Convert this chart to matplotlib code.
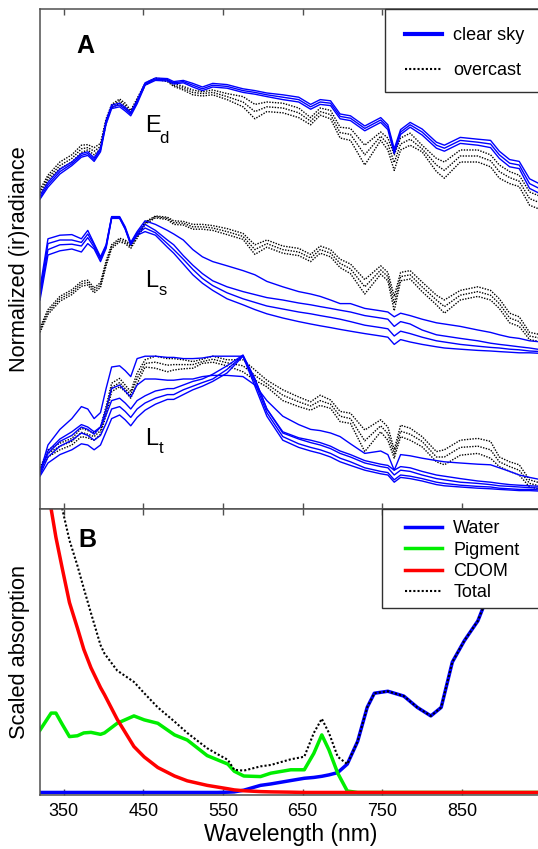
import matplotlib
matplotlib.use('Agg')
import matplotlib.pyplot as plt
from matplotlib.lines import Line2D
from matplotlib.patches import Rectangle
import numpy as np

plt.rcParams['font.family'] = ['Liberation Sans', 'DejaVu Sans']

# ── panel A: normalized spectra (each curve scaled so its maximum = 1) ──
WL_A = [320, 330, 345, 360, 372, 380, 388, 396, 403, 410,
        420, 427, 434, 442, 452, 465, 480, 488, 500, 512,
        524, 537, 555, 575, 590, 605, 625, 645, 660, 672,
        685, 697, 710, 728, 748, 757, 765, 773, 785, 800,
        818, 828, 848, 870, 886, 897, 910, 922, 935, 950]

# downwelling irradiance E_d
ED_CLEAR_HI = [0.02, 0.13, 0.24, 0.30, 0.37, 0.385, 0.335, 0.415, 0.645, 0.775,
               0.79, 0.755, 0.715, 0.815, 0.96, 1.0, 0.995, 0.97, 0.98, 0.955,
               0.925, 0.955, 0.945, 0.91, 0.895, 0.875, 0.86, 0.84, 0.78, 0.82,
               0.81, 0.70, 0.685, 0.60, 0.67, 0.61, 0.41, 0.57, 0.63, 0.575,
               0.465, 0.44, 0.505, 0.49, 0.48, 0.39, 0.32, 0.305, 0.16, 0.11]
ED_CLEAR_MID = [0.0, 0.11, 0.22, 0.285, 0.355, 0.37, 0.32, 0.40, 0.63, 0.76,
                0.775, 0.74, 0.70, 0.80, 0.95, 0.99, 0.985, 0.96, 0.97, 0.94,
                0.91, 0.94, 0.93, 0.895, 0.88, 0.86, 0.84, 0.82, 0.76, 0.80,
                0.79, 0.68, 0.665, 0.58, 0.65, 0.59, 0.39, 0.55, 0.61, 0.55,
                0.44, 0.415, 0.48, 0.465, 0.45, 0.36, 0.29, 0.275, 0.12, 0.07]
ED_CLEAR_LO = [-0.01, 0.09, 0.20, 0.27, 0.34, 0.355, 0.305, 0.385, 0.615, 0.745,
               0.76, 0.725, 0.685, 0.785, 0.94, 0.98, 0.975, 0.95, 0.96, 0.925,
               0.895, 0.925, 0.915, 0.88, 0.865, 0.845, 0.82, 0.80, 0.74, 0.78,
               0.77, 0.66, 0.645, 0.56, 0.63, 0.57, 0.37, 0.53, 0.59, 0.525,
               0.415, 0.39, 0.455, 0.44, 0.42, 0.33, 0.26, 0.245, 0.08, 0.03]
ED_OVER_TOP = [0.07, 0.19, 0.30, 0.36, 0.44, 0.445, 0.42, 0.455, 0.66, 0.78,
               0.825, 0.79, 0.73, 0.83, 0.955, 1.0, 0.985, 0.955, 0.93, 0.90,
               0.885, 0.90, 0.87, 0.845, 0.78, 0.80, 0.79, 0.75, 0.67, 0.75,
               0.73, 0.59, 0.58, 0.44, 0.55, 0.50, 0.36, 0.50, 0.54, 0.44,
               0.33, 0.30, 0.40, 0.40, 0.36, 0.275, 0.22, 0.19, 0.05, 0.01]
ED_OVER_MID = [0.045, 0.17, 0.27, 0.33, 0.41, 0.42, 0.39, 0.43, 0.64, 0.765,
               0.81, 0.77, 0.715, 0.815, 0.95, 0.995, 0.98, 0.94, 0.915, 0.88,
               0.87, 0.88, 0.845, 0.80, 0.72, 0.76, 0.75, 0.71, 0.64, 0.72,
               0.695, 0.545, 0.53, 0.36, 0.515, 0.45, 0.295, 0.45, 0.49, 0.41,
               0.275, 0.23, 0.35, 0.35, 0.31, 0.22, 0.17, 0.14, -0.005, -0.045]
ED_OVER_BOT = [0.02, 0.15, 0.245, 0.30, 0.38, 0.40, 0.36, 0.41, 0.62, 0.75,
               0.79, 0.75, 0.70, 0.80, 0.94, 0.99, 0.97, 0.93, 0.90, 0.86,
               0.85, 0.86, 0.82, 0.76, 0.66, 0.72, 0.71, 0.67, 0.61, 0.69,
               0.66, 0.50, 0.48, 0.275, 0.48, 0.40, 0.23, 0.40, 0.44, 0.385,
               0.22, 0.165, 0.30, 0.30, 0.26, 0.165, 0.12, 0.095, -0.06, -0.10]

# sky radiance L_s
LS_CLEAR_A = [0.40, 0.81, 0.84, 0.845, 0.81, 0.88, 0.77, 0.66, 0.76, 0.995,
              0.995, 0.91, 0.78, 0.87, 0.96, 0.93, 0.88, 0.85, 0.80, 0.72,
              0.66, 0.62, 0.585, 0.545, 0.51, 0.455, 0.41, 0.37, 0.35, 0.33,
              0.30, 0.27, 0.27, 0.23, 0.21, 0.20, 0.16, 0.19, 0.17, 0.14,
              0.11, 0.10, 0.08, 0.05, 0.03, 0.01, -0.01, -0.02, -0.04, -0.05]
LS_CLEAR_B = [0.36, 0.77, 0.80, 0.80, 0.78, 0.85, 0.76, 0.65, 0.75, 0.99,
              0.99, 0.90, 0.77, 0.86, 0.93, 0.88, 0.80, 0.76, 0.67, 0.59,
              0.52, 0.46, 0.41, 0.37, 0.345, 0.32, 0.30, 0.275, 0.26, 0.245,
              0.23, 0.215, 0.20, 0.17, 0.15, 0.14, 0.08, 0.12, 0.10, 0.05,
              0.01, 0.0, -0.02, -0.04, -0.06, -0.07, -0.08, -0.09, -0.10, -0.115]
LS_CLEAR_C = [0.33, 0.72, 0.76, 0.765, 0.75, 0.82, 0.74, 0.64, 0.74, 0.985,
              0.985, 0.895, 0.765, 0.85, 0.90, 0.86, 0.77, 0.72, 0.64, 0.555,
              0.48, 0.42, 0.36, 0.31, 0.28, 0.25, 0.225, 0.20, 0.185, 0.17,
              0.155, 0.14, 0.12, 0.09, 0.07, 0.06, 0.0, 0.04, 0.02, -0.01,
              -0.04, -0.05, -0.07, -0.085, -0.095, -0.10, -0.11, -0.115, -0.125, -0.13]
LS_CLEAR_D = [0.30, 0.675, 0.71, 0.725, 0.70, 0.77, 0.725, 0.62, 0.73, 0.98,
              0.98, 0.89, 0.76, 0.84, 0.87, 0.84, 0.74, 0.69, 0.60, 0.51,
              0.44, 0.38, 0.31, 0.26, 0.22, 0.185, 0.15, 0.12, 0.10, 0.085,
              0.07, 0.055, 0.04, 0.02, 0.0, -0.01, -0.07, -0.03, -0.05, -0.07,
              -0.09, -0.10, -0.11, -0.12, -0.125, -0.13, -0.135, -0.14, -0.14, -0.145]
LS_OVER_HI = [0.07, 0.22, 0.33, 0.385, 0.455, 0.465, 0.40, 0.445, 0.625, 0.76,
              0.815, 0.80, 0.76, 0.845, 0.95, 1.0, 0.99, 0.96, 0.955, 0.93,
              0.93, 0.92, 0.895, 0.855, 0.76, 0.80, 0.75, 0.73, 0.68, 0.75,
              0.72, 0.64, 0.60, 0.47, 0.585, 0.53, 0.33, 0.53, 0.545, 0.45,
              0.34, 0.30, 0.38, 0.41, 0.38, 0.31, 0.19, 0.16, 0.03, 0.01]
LS_OVER_MID = [0.05, 0.20, 0.31, 0.365, 0.435, 0.445, 0.38, 0.425, 0.605, 0.745,
               0.80, 0.785, 0.745, 0.83, 0.94, 0.995, 0.98, 0.945, 0.94, 0.91,
               0.91, 0.90, 0.87, 0.83, 0.72, 0.77, 0.72, 0.70, 0.65, 0.72,
               0.69, 0.605, 0.56, 0.41, 0.55, 0.495, 0.27, 0.495, 0.51, 0.41,
               0.30, 0.245, 0.34, 0.37, 0.34, 0.27, 0.15, 0.12, 0.0, -0.02]
LS_OVER_LO = [0.03, 0.18, 0.29, 0.345, 0.415, 0.425, 0.36, 0.405, 0.585, 0.73,
              0.785, 0.77, 0.73, 0.815, 0.93, 0.985, 0.97, 0.93, 0.925, 0.89,
              0.89, 0.88, 0.845, 0.805, 0.68, 0.74, 0.69, 0.67, 0.62, 0.69,
              0.66, 0.57, 0.52, 0.35, 0.515, 0.46, 0.21, 0.46, 0.475, 0.37,
              0.26, 0.19, 0.30, 0.33, 0.30, 0.23, 0.11, 0.08, -0.03, -0.05]

# total upwelling radiance L_t
LT_CLEAR_U = [0.02, 0.25, 0.38, 0.47, 0.57, 0.55, 0.47, 0.52, 0.72, 0.90,
              0.91, 0.87, 0.82, 0.97, 0.99, 0.99, 0.98, 0.98, 0.97, 0.97,
              0.975, 0.99, 0.99, 0.99, 0.80, 0.55, 0.36, 0.31, 0.29, 0.27,
              0.24, 0.20, 0.17, 0.12, 0.09, 0.08, 0.04, 0.07, 0.06, 0.03,
              0.0, -0.01, -0.03, -0.05, -0.06, -0.07, -0.08, -0.085, -0.09, -0.095]
LT_CLEAR_E = [0.03, 0.18, 0.28, 0.33, 0.40, 0.38, 0.34, 0.40, 0.55, 0.72,
              0.75, 0.70, 0.65, 0.75, 0.80, 0.80, 0.79, 0.79, 0.80, 0.80,
              0.82, 0.83, 0.83, 0.82, 0.75, 0.62, 0.49, 0.42, 0.38, 0.37,
              0.35, 0.32, 0.26, 0.18, 0.20, 0.17, 0.04, 0.17, 0.16, 0.14,
              0.12, 0.11, 0.10, 0.09, 0.085, 0.06, 0.03, 0.0, -0.02, -0.04]
LT_CLEAR_M1 = [0.02, 0.20, 0.30, 0.36, 0.42, 0.40, 0.36, 0.40, 0.50, 0.62,
               0.64, 0.60, 0.55, 0.62, 0.66, 0.70, 0.72, 0.72, 0.75, 0.78,
               0.80, 0.84, 0.91, 1.0, 0.80, 0.55, 0.35, 0.30, 0.27, 0.25,
               0.22, 0.18, 0.15, 0.10, 0.07, 0.06, 0.0, 0.04, 0.03, 0.0,
               -0.03, -0.04, -0.06, -0.07, -0.08, -0.09, -0.095, -0.10, -0.105, -0.11]
LT_CLEAR_M2 = [0.0, 0.15, 0.24, 0.29, 0.35, 0.33, 0.29, 0.33, 0.43, 0.55,
               0.57, 0.53, 0.48, 0.55, 0.60, 0.64, 0.67, 0.67, 0.71, 0.74,
               0.77, 0.80, 0.88, 0.995, 0.77, 0.52, 0.32, 0.26, 0.23, 0.21,
               0.18, 0.14, 0.11, 0.06, 0.03, 0.02, -0.04, 0.0, -0.01, -0.03,
               -0.06, -0.07, -0.085, -0.095, -0.10, -0.11, -0.115, -0.12, -0.12, -0.125]
LT_CLEAR_M3 = [-0.01, 0.10, 0.17, 0.21, 0.26, 0.25, 0.21, 0.25, 0.36, 0.47,
               0.50, 0.46, 0.41, 0.48, 0.54, 0.59, 0.63, 0.63, 0.67, 0.71,
               0.74, 0.78, 0.85, 0.99, 0.74, 0.49, 0.29, 0.23, 0.20, 0.18,
               0.15, 0.11, 0.08, 0.04, 0.01, 0.0, -0.06, -0.02, -0.03, -0.05,
               -0.08, -0.09, -0.10, -0.11, -0.115, -0.12, -0.125, -0.13, -0.13, -0.135]
LT_OVER_TOP = [0.06, 0.21, 0.265, 0.305, 0.39, 0.37, 0.35, 0.40, 0.57, 0.765,
               0.805, 0.75, 0.695, 0.85, 0.96, 0.99, 0.97, 0.97, 0.96, 0.945,
               0.965, 0.99, 0.96, 0.96, 0.875, 0.79, 0.71, 0.65, 0.61, 0.665,
               0.625, 0.53, 0.515, 0.375, 0.46, 0.40, 0.21, 0.415, 0.39, 0.32,
               0.195, 0.21, 0.29, 0.305, 0.28, 0.15, 0.11, 0.085, -0.04, -0.07]
LT_OVER_MID = [0.04, 0.18, 0.24, 0.28, 0.355, 0.34, 0.32, 0.37, 0.535, 0.73,
               0.77, 0.72, 0.67, 0.805, 0.93, 0.94, 0.915, 0.92, 0.92, 0.92,
               0.945, 0.965, 0.935, 0.91, 0.83, 0.76, 0.665, 0.61, 0.575, 0.62,
               0.59, 0.49, 0.47, 0.285, 0.41, 0.345, 0.175, 0.365, 0.34, 0.28,
               0.15, 0.15, 0.23, 0.24, 0.21, 0.11, 0.07, 0.04, -0.07, -0.095]
LT_OVER_BOT = [0.02, 0.15, 0.21, 0.25, 0.32, 0.31, 0.29, 0.34, 0.50, 0.695,
               0.735, 0.695, 0.64, 0.76, 0.90, 0.89, 0.86, 0.875, 0.885, 0.89,
               0.93, 0.94, 0.91, 0.86, 0.79, 0.735, 0.62, 0.57, 0.54, 0.58,
               0.555, 0.445, 0.43, 0.195, 0.36, 0.29, 0.14, 0.32, 0.29, 0.235,
               0.11, 0.085, 0.165, 0.18, 0.14, 0.07, 0.03, 0.0, -0.10, -0.12]

# ── panel B: scaled absorption ──
WL_B = [320, 327, 334, 340, 348, 357, 367, 375, 384, 396,
        401, 417, 438, 451, 468, 489, 505, 530, 543, 556,
        564, 576, 597, 610, 635, 652, 664, 674, 683, 694,
        706, 719, 731, 740, 757, 777, 794, 811, 824, 838,
        853, 870, 882, 895, 910, 930, 950]
WATER = [0, 0, 0, 0, 0, 0, 0, 0, 0, 0,
         0, 0, 0, 0, 0, 0, 0, 0, 0, 0.001,
         0.002, 0.008, 0.025, 0.03, 0.042, 0.05, 0.053, 0.057, 0.062, 0.07,
         0.10, 0.18, 0.30, 0.35, 0.357, 0.34, 0.30, 0.27, 0.30, 0.46,
         0.535, 0.605, 0.69, 0.82, 1.0, 1.3, 1.5]
PIGMENT = [0.22, 0.25, 0.28, 0.28, 0.24, 0.197, 0.20, 0.21, 0.212, 0.205,
           0.21, 0.244, 0.27, 0.256, 0.244, 0.203, 0.185, 0.13, 0.115, 0.10,
           0.075, 0.058, 0.056, 0.068, 0.08, 0.08, 0.138, 0.203, 0.15, 0.068,
           0.005, 0, 0, 0, 0, 0, 0, 0, 0, 0,
           0, 0, 0, 0, 0, 0, 0]
CDOM = [1.25, 1.12, 1.0, 0.90, 0.79, 0.67, 0.58, 0.505, 0.44, 0.37,
        0.345, 0.258, 0.162, 0.125, 0.088, 0.058, 0.041, 0.025, 0.019, 0.013,
        0.009, 0.006, 0.003, 0.002, 0.001, 0, 0, 0, 0, 0,
        0, 0, 0, 0, 0, 0, 0, 0, 0, 0,
        0, 0, 0, 0, 0, 0, 0]
TOTAL = [1.6, 1.45, 1.3, 1.15, 1.0, 0.89, 0.80, 0.72, 0.633, 0.52,
         0.49, 0.43, 0.39, 0.35, 0.30, 0.25, 0.21, 0.156, 0.135, 0.115,
         0.08, 0.077, 0.092, 0.097, 0.117, 0.126, 0.21, 0.26, 0.21, 0.126,
         0.10, 0.18, 0.30, 0.35, 0.357, 0.34, 0.30, 0.27, 0.30, 0.46,
         0.535, 0.605, 0.69, 0.82, 1.0, 1.3, 1.5]

XTICKS = [350, 450, 550, 650, 750, 850]

DOT = (0, (1, 1))
SPINE = '#505050'

fig = plt.figure(figsize=(5.38, 8.49), dpi=100)
ax_a = fig.add_axes([40 / 538, 340 / 849, 501.5 / 538, 500 / 849])
ax_b = fig.add_axes([40 / 538, 54 / 849, 501.5 / 538, 286 / 849])

# each group is stacked with its own offset (scale 1.2 per unit)
groups = [
    (3.11, [ED_OVER_TOP, ED_OVER_MID, ED_OVER_BOT],
     [ED_CLEAR_HI, ED_CLEAR_MID, ED_CLEAR_LO]),
    (1.73, [LS_OVER_HI, LS_OVER_MID, LS_OVER_LO],
     [LS_CLEAR_A, LS_CLEAR_B, LS_CLEAR_C, LS_CLEAR_D]),
    (0.34, [LT_OVER_TOP, LT_OVER_MID, LT_OVER_BOT],
     [LT_CLEAR_U, LT_CLEAR_E, LT_CLEAR_M1, LT_CLEAR_M2, LT_CLEAR_M3]),
]
wl_a = np.array(WL_A)
for off, over, clear in groups:
    for s in over:
        ax_a.plot(wl_a, off + 1.2 * np.array(s), color='black', lw=1.0, ls=DOT)
    for s in clear:
        ax_a.plot(wl_a, off + 1.2 * np.array(s), color='#0000ff', lw=1.0)

ax_a.set_ylim(0, 5)

wl_b = np.array(WL_B)
ax_b.plot(wl_b, WATER, color='#0000ff', lw=2.5, label='Water')
ax_b.plot(wl_b, PIGMENT, color='#00ee00', lw=2.5, label='Pigment')
ax_b.plot(wl_b, CDOM, color='#ff0000', lw=2.5, label='CDOM')
ax_b.plot(wl_b, TOTAL, color='black', lw=1.5, ls=DOT, label='Total')
ax_b.set_ylim(-0.009, 1.0)

for ax in (ax_a, ax_b):
    ax.set_xlim(320, 950)
    ax.set_xticks(XTICKS)
    ax.set_yticks([])
    ax.tick_params(axis='x', direction='in', top=True, bottom=True,
                   length=4, width=1, color=SPINE, labelsize=13, pad=6)
    for sp in ax.spines.values():
        sp.set_color(SPINE)
        sp.set_linewidth(1.1)
ax_a.tick_params(axis='x', labelbottom=False)

# curve labels
ax_a.text(0.0732, 0.9114, 'A', transform=ax_a.transAxes, fontsize=18,
          fontweight='bold', ha='left', va='baseline')
ax_b.text(0.0764, 0.868, 'B', transform=ax_b.transAxes, fontsize=18,
          fontweight='bold', ha='left', va='baseline')
for main, sub, yb, ys in [('E', 'd', 0.7546, 0.732),
                          ('L', 's', 0.444, 0.428),
                          ('L', 't', 0.128, 0.112)]:
    ax_a.text(0.2094, yb, main, transform=ax_a.transAxes, fontsize=17,
              ha='left', va='baseline')
    ax_a.text(0.2373, ys, sub, transform=ax_a.transAxes, fontsize=12,
              ha='left', va='baseline')

# legends with square white boxes running off the right edge
ax_a.add_patch(Rectangle((0.688, 0.834), 0.4, 0.166, transform=ax_a.transAxes,
                         facecolor='white', edgecolor='#303030', lw=1.0,
                         zorder=4, clip_on=False))
handles_a = [Line2D([0], [0], color='#0000ff', lw=3),
             Line2D([0], [0], color='black', lw=1.5, ls=DOT)]
leg_a = ax_a.legend(handles_a, ['clear sky', 'overcast'], loc='upper left',
                    bbox_to_anchor=(0.7278, 0.964), frameon=False, fontsize=13,
                    borderpad=0, borderaxespad=0, handlelength=2.06,
                    handletextpad=0.61, labelspacing=1.0)
leg_a.set_zorder(5)

ax_b.add_patch(Rectangle((0.6814, 0.6538), 0.4, 0.3462, transform=ax_b.transAxes,
                         facecolor='white', edgecolor='#303030', lw=1.0,
                         zorder=4, clip_on=False))
leg_b = ax_b.legend(loc='upper left', bbox_to_anchor=(0.7278, 0.960),
                    frameon=False, fontsize=13, borderpad=0, borderaxespad=0,
                    handlelength=2.06, handletextpad=0.61, labelspacing=0.24)
leg_b.set_zorder(5)

fig.text(19.5 / 538, 1 - 259 / 849, 'Normalized (ir)radiance', rotation=90,
         ha='center', va='center', fontsize=15.7)
fig.text(19.5 / 538, 1 - 652 / 849, 'Scaled absorption', rotation=90,
         ha='center', va='center', fontsize=15.7)
ax_b.set_xlabel('Wavelength (nm)', fontsize=16.5, labelpad=2)

fig.savefig('out.png', dpi=100)
